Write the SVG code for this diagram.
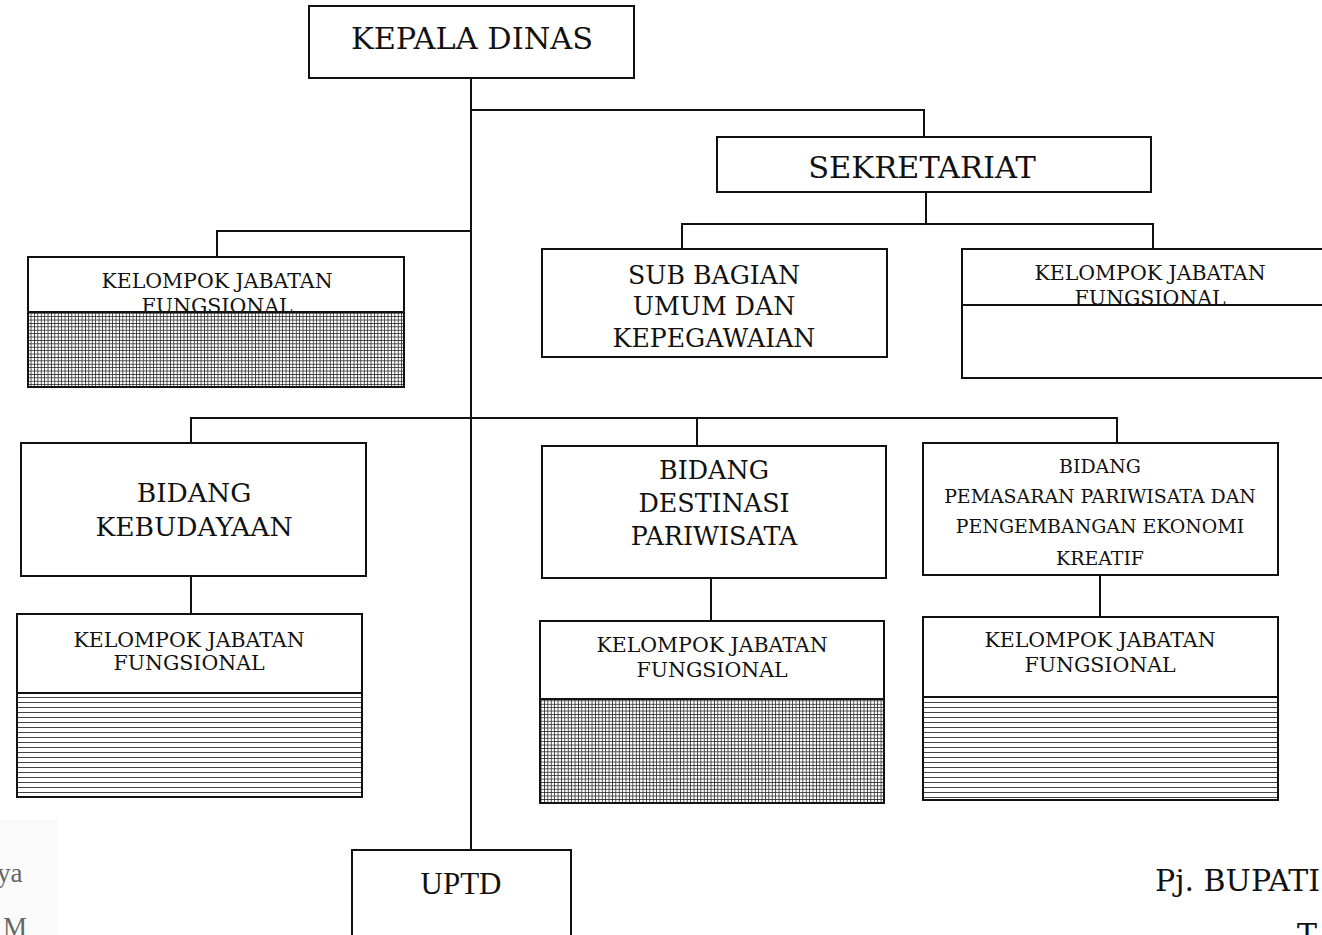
<svg xmlns="http://www.w3.org/2000/svg" width="1322" height="935" viewBox="0 0 1322 935">
<style>
.box{fill:#fff;stroke:#111;stroke-width:2}
.ln{stroke:#111;stroke-width:2;fill:none}
.t{font-family:"DejaVu Serif","Liberation Serif",serif;fill:#111;text-anchor:middle}
.grid{fill:url(#grid);stroke:#111;stroke-width:2}
.hatch{fill:url(#hatch);stroke:#111;stroke-width:2}
</style>
<defs>
<pattern id="grid" patternUnits="userSpaceOnUse" width="3.4" height="3.4">
<rect width="3.4" height="3.4" fill="#fff"/>
<path d="M0 0.4H3.4M0.4 0V3.4" stroke="#222" stroke-width="0.8"/>
</pattern>
<pattern id="hatch" patternUnits="userSpaceOnUse" width="10" height="5">
<rect width="10" height="5" fill="#fff"/>
<path d="M0 2.5H10" stroke="#444" stroke-width="1"/>
</pattern>
</defs>
<rect width="1322" height="935" fill="#fff"/>
<g id="connectors">
<path class="ln" d="M471 78V850"/>
<path class="ln" d="M471 110H924V137"/>
<path class="ln" d="M926 192V224"/>
<path class="ln" d="M682 249V224H1153V249"/>
<path class="ln" d="M217 257V231H471"/>
<path class="ln" d="M191 443V418H1117V443"/>
<path class="ln" d="M697 418V446"/>
<path class="ln" d="M191 576V614"/>
<path class="ln" d="M711 578V621"/>
<path class="ln" d="M1100 575V617"/>
</g>
<g id="kepala-dinas">
<rect class="box" x="309" y="6" width="325" height="72"/>
<text class="t" x="472" y="49" font-size="30.4">KEPALA DINAS</text>
</g>
<g id="sekretariat">
<rect class="box" x="717" y="137" width="434" height="55"/>
<text class="t" x="922" y="178" font-size="30.5">SEKRETARIAT</text>
</g>
<g id="sub-bagian">
<rect class="box" x="542" y="249" width="345" height="108"/>
<text class="t" x="714" y="284" font-size="25.2">SUB BAGIAN</text>
<text class="t" x="714" y="315" font-size="25.2">UMUM DAN</text>
<text class="t" x="714" y="347" font-size="25.2">KEPEGAWAIAN</text>
</g>
<g id="kjf-sekretariat">
<rect class="box" x="962" y="249" width="370" height="129"/>
<text class="t" x="1150" y="280" font-size="20.5">KELOMPOK JABATAN</text>
<text class="t" x="1150" y="305" font-size="20.5">FUNGSIONAL</text>
<rect class="box" x="962" y="305" width="370" height="73"/>
</g>
<g id="kjf-kepala">
<rect class="box" x="28" y="257" width="376" height="130"/>
<text class="t" x="217" y="288" font-size="20.5">KELOMPOK JABATAN</text>
<text class="t" x="217" y="313" font-size="20.5">FUNGSIONAL</text>
<rect class="grid" x="28" y="312" width="376" height="75"/>
</g>
<g id="bidang-kebudayaan">
<rect class="box" x="21" y="443" width="345" height="133"/>
<text class="t" x="194" y="502" font-size="26.5">BIDANG</text>
<text class="t" x="194" y="536" font-size="26.5">KEBUDAYAAN</text>
</g>
<g id="bidang-destinasi">
<rect class="box" x="542" y="446" width="344" height="132"/>
<text class="t" x="714" y="479" font-size="25.4">BIDANG</text>
<text class="t" x="714" y="512" font-size="25.4">DESTINASI</text>
<text class="t" x="714" y="545" font-size="25.4">PARIWISATA</text>
</g>
<g id="bidang-pemasaran">
<rect class="box" x="923" y="443" width="355" height="132"/>
<text class="t" x="1100" y="473" font-size="18.9">BIDANG</text>
<text class="t" x="1100" y="503" font-size="18.9">PEMASARAN PARIWISATA DAN</text>
<text class="t" x="1100" y="533" font-size="18.9">PENGEMBANGAN EKONOMI</text>
<text class="t" x="1100" y="565" font-size="18.9">KREATIF</text>
</g>
<g id="kjf-kebudayaan">
<rect class="box" x="17" y="614" width="345" height="183"/>
<text class="t" x="189" y="647" font-size="20.5">KELOMPOK JABATAN</text>
<text class="t" x="189" y="670" font-size="20.5">FUNGSIONAL</text>
<rect class="hatch" x="17" y="693" width="345" height="104"/>
</g>
<g id="kjf-destinasi">
<rect class="box" x="540" y="621" width="344" height="182"/>
<text class="t" x="712" y="652" font-size="20.5">KELOMPOK JABATAN</text>
<text class="t" x="712" y="677" font-size="20.5">FUNGSIONAL</text>
<rect class="grid" x="540" y="699" width="344" height="104"/>
</g>
<g id="kjf-pemasaran">
<rect class="box" x="923" y="617" width="355" height="183"/>
<text class="t" x="1100" y="647" font-size="20.5">KELOMPOK JABATAN</text>
<text class="t" x="1100" y="672" font-size="20.5">FUNGSIONAL</text>
<rect class="hatch" x="923" y="697" width="355" height="103"/>
</g>
<g id="uptd">
<rect class="box" x="352" y="850" width="219" height="100"/>
<text class="t" x="461" y="894" font-size="31" style="font-family:'Liberation Serif',serif">UPTD</text>
</g>
<g id="footer">
<rect x="0" y="820" width="58" height="115" fill="#fafafa"/>
<text x="-3" y="882" font-size="27" fill="#666" style="font-family:'Liberation Serif',serif">ya</text>
<text x="3" y="936" font-size="27" fill="#666" style="font-family:'Liberation Serif',serif">M</text>
<text x="1155" y="891" font-size="30" fill="#111" style="font-family:'DejaVu Serif',serif">Pj. BUPATI</text>
<text x="1297" y="945" font-size="30" fill="#111" style="font-family:'DejaVu Serif',serif">T</text>
</g>
</svg>
